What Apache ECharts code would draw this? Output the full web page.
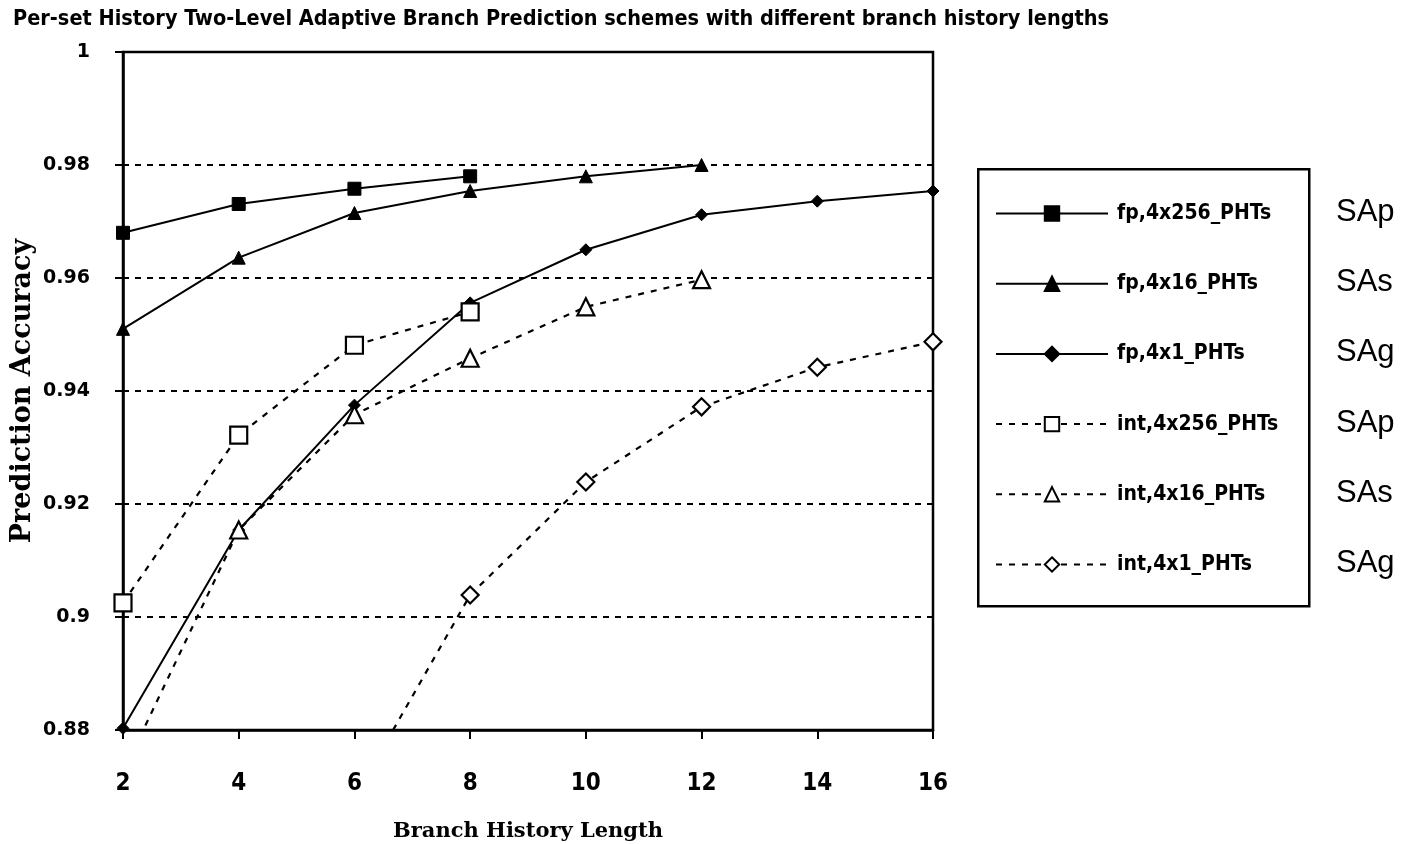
<!DOCTYPE html>
<html>
<head>
<meta charset="utf-8">
<title>Per-set History Two-Level Adaptive Branch Prediction</title>
<script src="https://cdn.jsdelivr.net/npm/echarts@6/dist/echarts.min.js"></script>
<style>
  html, body { margin: 0; padding: 0; background: #ffffff; }
  #chart { width: 1408px; height: 844px; }
</style>
</head>
<body>
<div id="chart"></div>
<script>
// Branch history lengths (x axis)
const historyLengths = [2, 4, 6, 8, 10, 12, 14, 16];

// Prediction accuracy per scheme, one value per history length (null = not measured)
const fp4x256 = [0.968, 0.9731, 0.9758, 0.978, null, null, null, null];
const fp4x16  = [0.951, 0.9636, 0.9715, 0.9754, 0.978, 0.980, null, null];
const fp4x1   = [0.8803, 0.9154, 0.9375, 0.9556, 0.965, 0.9712, 0.9736, 0.9754];
const int4x256 = [0.9025, 0.9322, 0.9481, 0.954, null, null, null, null];
const int4x16  = [0.8725, 0.9154, 0.9358, 0.9458, 0.9549, 0.9597, null, null];
const int4x1   = [null, null, 0.868, 0.9039, 0.9239, 0.9372, 0.9442, 0.9487];

const seriesNames = ['fp,4x256_PHTs', 'fp,4x16_PHTs', 'fp,4x1_PHTs',
                     'int,4x256_PHTs', 'int,4x16_PHTs', 'int,4x1_PHTs'];
const schemeTags = ['SAp', 'SAs', 'SAg', 'SAp', 'SAs', 'SAg'];

const yTicks = { min: 0.88, max: 1, interval: 0.02 };
const xTicks = { min: 2, max: 16, interval: 2 };

const titleText = 'Per-set History Two-Level Adaptive Branch Prediction schemes with different branch history lengths';
const xName = 'Branch History Length';
const yName = 'Prediction Accuracy';

const narrowBold = "'Liberation Sans Narrow', 'DejaVu Sans Condensed', 'Liberation Sans', sans-serif";
const serifBold = "'DejaVu Serif', serif";

function pairs(values) {
  return historyLengths.map((x, i) => [x, values[i]]);
}

function solidSeries(name, values, symbol, size) {
  return {
    name, type: 'line', data: pairs(values), connectNulls: false,
    symbol, symbolSize: size, showAllSymbol: true,
    lineStyle: { color: '#000', width: 2, type: 'solid' },
    itemStyle: { color: '#000', borderColor: '#000', borderWidth: 1 },
    emphasis: { disabled: true }, z: 3
  };
}

function hollowSeries(name, values, symbol, size) {
  return {
    name, type: 'line', data: pairs(values), connectNulls: false,
    symbol, symbolSize: size, showAllSymbol: true,
    lineStyle: { color: '#000', width: 2.2, type: [6, 7] },
    itemStyle: { color: '#fff', borderColor: '#000', borderWidth: 2.2 },
    emphasis: { disabled: true }, z: 4
  };
}

// Legend rows: first row centred near y=212, rows 70.2px apart
const legendTop = 203;
const legendStep = 70.2;
const legendItemH = 18;
const legendRowH = 21;

const tagGraphics = schemeTags.map((t, i) => ({
  type: 'text',
  left: 1336,
  top: 212 + i * legendStep - 15,
  style: {
    text: t, fill: '#000',
    font: "31px 'Liberation Sans', Arial, sans-serif"
  }
}));

const chart = echarts.init(document.getElementById('chart'), null, { renderer: 'canvas' });

chart.setOption({
  animation: false,
  backgroundColor: '#fff',
  title: {
    text: titleText,
    left: 8, top: 3,
    textStyle: { fontFamily: narrowBold, fontWeight: 'bold', fontSize: 21.5, color: '#000' }
  },
  grid: {
    left: 123, right: 475, top: 52, bottom: 114,
    containLabel: false, outerBoundsMode: 'none',
    show: true, borderColor: '#000', borderWidth: 2.5, backgroundColor: 'transparent'
  },
  xAxis: {
    type: 'value',
    min: xTicks.min, max: xTicks.max, interval: xTicks.interval,
    name: xName, nameLocation: 'middle', nameGap: 91,
    nameTextStyle: { fontFamily: serifBold, fontWeight: 'bold', fontSize: 21, color: '#000' },
    axisLine: { show: true, lineStyle: { color: '#000', width: 2.5 } },
    axisTick: { show: true, length: 9, lineStyle: { color: '#000', width: 2 } },
    axisLabel: { margin: 42, color: '#000', fontFamily: narrowBold, fontWeight: 'bold', fontSize: 24 },
    splitLine: { show: false }
  },
  yAxis: {
    type: 'value',
    min: yTicks.min, max: yTicks.max, interval: yTicks.interval,
    name: yName, nameLocation: 'middle', nameGap: 100, nameRotate: 90,
    nameMoveOverlap: false,
    nameTextStyle: {
      fontFamily: serifBold, fontWeight: 'bold', fontSize: 27, color: '#000',
      align: 'center', verticalAlign: 'middle'
    },
    axisLine: { show: true, lineStyle: { color: '#000', width: 2.5 } },
    axisTick: { show: true, length: 8, lineStyle: { color: '#000', width: 2 } },
    axisLabel: { margin: 33, color: '#000', fontFamily: "'DejaVu Sans', sans-serif", fontWeight: 'bold', fontSize: 19 },
    splitLine: { show: true, lineStyle: { color: '#000', width: 2, type: [6, 6] } }
  },
  legend: {
    orient: 'vertical',
    left: 995, top: legendTop,
    padding: 0,
    itemWidth: 112, itemHeight: legendItemH, itemGap: legendStep - legendRowH,
    data: seriesNames,
    selectedMode: false,
    textStyle: {
      fontFamily: narrowBold, fontWeight: 'bold', fontSize: 21,
      color: '#000', padding: [0, 0, 0, 4]
    }
  },
  graphic: [
    {
      type: 'rect', left: 977, top: 168, z: -1,
      shape: { width: 331, height: 437 },
      style: { fill: 'transparent', stroke: '#000', lineWidth: 2.5 }
    }
  ].concat(tagGraphics),
  series: [
    solidSeries(seriesNames[0], fp4x256, 'rect', 13),
    solidSeries(seriesNames[1], fp4x16, 'triangle', 13),
    solidSeries(seriesNames[2], fp4x1, 'diamond', 12),
    hollowSeries(seriesNames[3], int4x256, 'rect', 17),
    hollowSeries(seriesNames[4], int4x16, 'triangle', 17),
    hollowSeries(seriesNames[5], int4x1, 'diamond', 17)
  ]
});
</script>
</body>
</html>
